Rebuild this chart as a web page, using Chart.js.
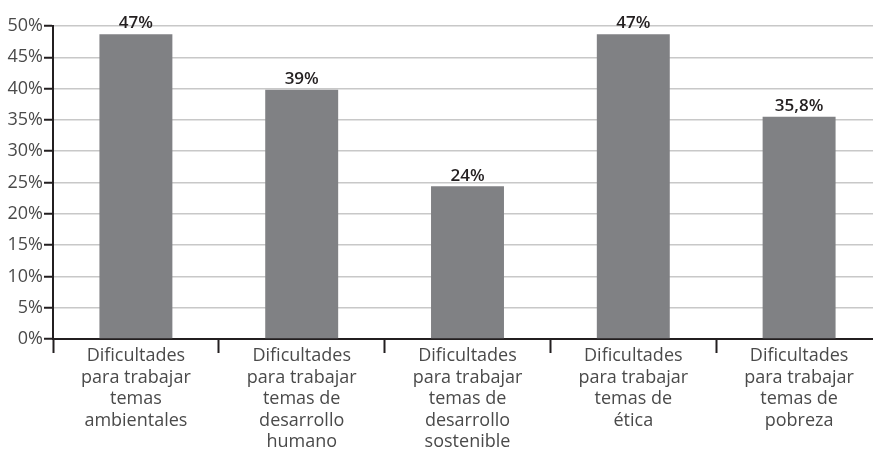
<!DOCTYPE html>
<html>
<head>
<meta charset="utf-8">
<script src="https://cdn.jsdelivr.net/npm/chart.js@4/dist/chart.umd.min.js"></script>
<style>
  html, body { margin: 0; padding: 0; background: #fff; overflow: hidden; }
  #wrap { width: 882px; height: 450px; }
</style>
</head>
<body>
<div id="wrap"><canvas id="grafico"></canvas></div>
<script>
// datos
const categorias = [
  ['Dificultades', 'para trabajar', 'temas', 'ambientales'],
  ['Dificultades', 'para trabajar', 'temas de', 'desarrollo', 'humano'],
  ['Dificultades', 'para trabajar', 'temas de', 'desarrollo', 'sostenible'],
  ['Dificultades', 'para trabajar', 'temas de', 'ética'],
  ['Dificultades', 'para trabajar', 'temas de', 'pobreza']
];
const valores = [48.7, 39.8, 24.4, 48.7, 35.5];
const etiquetas = ['47%', '39%', '24%', '47%', '35,8%'];
const ticksY = [0, 5, 10, 15, 20, 25, 30, 35, 40, 45, 50];

const gris = '#808184';
const oscuro = '#231f20';

const etiquetasBarras = {
  id: 'etiquetasBarras',
  afterDatasetsDraw(chart) {
    const ctx = chart.ctx;
    const meta = chart.getDatasetMeta(0);
    ctx.save();
    ctx.font = '600 17px "Open Sans"';
    ctx.fillStyle = oscuro;
    ctx.textAlign = 'center';
    ctx.textBaseline = 'bottom';
    meta.data.forEach((bar, i) => {
      ctx.fillText(etiquetas[i], bar.x, bar.y - 2);
    });
    ctx.restore();
  }
};

new Chart(document.getElementById('grafico'), {
  type: 'bar',
  data: {
    labels: categorias,
    datasets: [{
      data: valores,
      backgroundColor: gris,
      barPercentage: 0.44,
      categoryPercentage: 1
    }]
  },
  options: {
    responsive: true,
    maintainAspectRatio: false,
    animation: false,
    layout: { padding: { top: 26, left: 0, right: 0, bottom: 0 } },
    plugins: { legend: { display: false }, tooltip: { enabled: false } },
    scales: {
      x: {
        afterFit: (s) => { s.height = 111; },
        grid: {
          offset: true,
          drawOnChartArea: false,
          tickLength: 14,
          tickColor: oscuro,
          tickWidth: 2
        },
        border: { color: oscuro, width: 2 },
        ticks: {
          color: '#4a4a4a',
          padding: -8,
          maxRotation: 0,
          autoSkip: false,
          font: { family: 'Open Sans', size: 18, lineHeight: 1.2 }
        }
      },
      y: {
        min: 0,
        max: 50,
        afterFit: (s) => { s.width = 53; },
        afterBuildTicks: (s) => { s.ticks = ticksY.map(v => ({ value: v })); },
        grid: {
          color: '#c8c8c8',
          lineWidth: 1.5,
          tickLength: 9,
          tickColor: oscuro,
          tickWidth: 2
        },
        border: { color: oscuro, width: 2 },
        ticks: {
          color: '#4a4a4a',
          padding: 1,
          font: { family: 'Open Sans', size: 18 },
          callback: (v) => v + '%'
        }
      }
    }
  },
  plugins: [etiquetasBarras]
});
</script>
</body>
</html>
